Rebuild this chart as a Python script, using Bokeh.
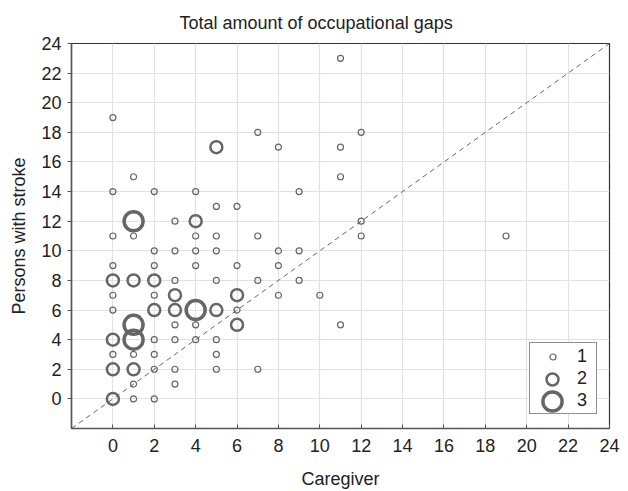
from bokeh.plotting import figure
from bokeh.models import Range1d, FixedTicker, Legend, LegendItem
from bokeh.embed import file_html
from bokeh.resources import INLINE

# Data: (caregiver, persons with stroke, number of persons)
caregiver = [1, 2, 1, 3, 2, 3, 5, 7, 0, 1, 2, 5, 2, 3, 4, 5, 3, 4, 11, 0, 6,
             0, 2, 8, 10, 3, 5, 7, 9, 0, 2, 4, 6, 8, 2, 3, 4, 5, 8, 9,
             0, 1, 4, 5, 7, 12, 19, 3, 12, 5, 6, 0, 2, 4, 9, 1, 11, 8, 11,
             7, 12, 0, 11,
             0, 0, 1, 0, 6, 2, 3, 5, 3, 6, 0, 1, 2, 4, 5,
             1, 1, 4, 1]
stroke = [0, 0, 1, 1, 2, 2, 2, 2, 3, 3, 3, 3, 4, 4, 4, 4, 5, 5, 5, 6, 6,
          7, 7, 7, 7, 8, 8, 8, 8, 9, 9, 9, 9, 9, 10, 10, 10, 10, 10, 10,
          11, 11, 11, 11, 11, 11, 11, 12, 12, 13, 13, 14, 14, 14, 14, 15, 15, 17, 17,
          18, 18, 19, 23,
          0, 2, 2, 4, 5, 6, 6, 6, 7, 7, 8, 8, 8, 12, 17,
          4, 5, 6, 12]
count = [1] * 63 + [2] * 15 + [3] * 4

levels = [1, 2, 3]
ticks = list(range(0, 25, 2))

GRAY = "#666666"
TEXT = "#222222"
FONT = "Liberation Sans"
FS = "18px"

p = figure(width=620, height=491, output_backend="svg", toolbar_location=None,
           x_range=Range1d(-2, 24), y_range=Range1d(-2, 24),
           min_border_left=71, min_border_right=11, min_border_top=43,
           min_border_bottom=63)

p.title.text = "Total amount of occupational gaps"
p.title.align = "left"
p.title.offset = 108
p.title.vertical_align = "top"
p.title.text_font = FONT
p.title.text_font_size = FS
p.title.text_font_style = "normal"
p.title.text_color = TEXT
p.title.standoff = 17

p.xaxis.axis_label = "Caregiver"
p.yaxis.axis_label = "Persons with stroke"
for ax in (p.xaxis[0], p.yaxis[0]):
    ax.ticker = FixedTicker(ticks=ticks)
    ax.axis_label_text_font = FONT
    ax.axis_label_text_font_size = FS
    ax.axis_label_text_font_style = "normal"
    ax.axis_label_text_color = TEXT
    ax.major_label_text_font = FONT
    ax.major_label_text_font_size = FS
    ax.major_label_text_color = TEXT
    ax.axis_line_color = "#555555"
    ax.axis_line_width = 1.5
    ax.major_tick_line_color = "#555555"
    ax.minor_tick_line_color = None

p.xaxis.major_tick_in = 4
p.xaxis.major_tick_out = 0
p.xaxis.major_label_standoff = 10
p.xaxis.axis_label_standoff = 14
p.yaxis.major_tick_in = 0
p.yaxis.major_tick_out = 4
p.yaxis.major_label_standoff = 6
p.yaxis.axis_label_standoff = 9

p.grid.grid_line_color = "#e2e2e2"
p.grid.grid_line_width = 1.2
p.grid.ticker = FixedTicker(ticks=ticks)
p.outline_line_color = "#333333"
p.outline_line_width = 1.2

# diagonal y = x
diag = [-2, 24]
p.line(diag, diag, line_color=GRAY, line_dash="5 4", line_width=1)

sizes = {1: 6, 2: 12, 3: 19}
widths = {1: 1.2, 2: 2.5, 3: 3.5}
renderers = {}
for lv in levels:
    xs = [x for x, c in zip(caregiver, count) if c == lv]
    ys = [y for y, c in zip(stroke, count) if c == lv]
    renderers[lv] = p.scatter(xs, ys, marker="circle", size=sizes[lv],
                              fill_color=None, line_color=GRAY,
                              line_width=widths[lv])

# legend box with labels (glyphs drawn by the per-size legends below)
blank = p.scatter([], [], marker="circle", size=1, fill_alpha=0, line_alpha=0)
box = Legend(items=[LegendItem(label=str(lv), renderers=[blank]) for lv in levels],
             location=(458, 14), padding=2, spacing=0,
             glyph_width=44, glyph_height=22, label_height=22,
             label_width=17, label_standoff=1, margin=0,
             label_text_font=FONT, label_text_font_size=FS,
             label_text_color=TEXT,
             border_line_color="#222222", border_line_width=1.2,
             background_fill_color="white", background_fill_alpha=1)
p.add_layout(box, "center")

# one legend per size so that each legend glyph keeps its marker size
item_cy = {1: 71, 2: 49, 3: 27}     # item centres, px above the frame bottom
glyph_cx = 481                       # glyph centre, px right of frame left
for lv in levels:
    h = int(round(sizes[lv] / 0.4))
    lg = Legend(items=[LegendItem(label=" ", renderers=[renderers[lv]])],
                location=(glyph_cx - h // 2, item_cy[lv] - h // 2),
                padding=0, spacing=0, margin=0,
                glyph_width=h, glyph_height=h, label_height=h,
                label_width=0, label_standoff=0,
                label_text_font_size="1px",
                border_line_color=None, background_fill_alpha=0)
    p.add_layout(lg, "center")

open("out.html", "w").write(file_html(p, INLINE))
